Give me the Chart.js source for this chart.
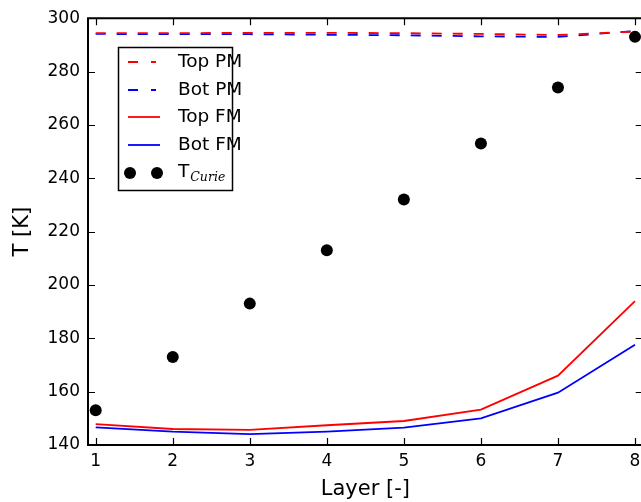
<!DOCTYPE html>
<html>
<head>
<meta charset="utf-8">
<script src="https://cdn.jsdelivr.net/npm/chart.js@4.4.1/dist/chart.umd.min.js"></script>
<style>
  html, body { margin: 0; padding: 0; background: #fff; overflow: hidden; }
  #wrap { width: 641px; height: 502px; overflow: hidden; }
</style>
</head>
<body>
<div id="wrap"><canvas id="c" width="650" height="502"></canvas></div>
<script>
// Layer index along the stack
const layers = [1, 2, 3, 4, 5, 6, 7, 8];
// Transition temperatures per layer [K]
const topPM = [294.4, 294.4, 294.5, 294.5, 294.4, 294.1, 293.7, 295.0];
const botPM = [294.1, 294.0, 294.0, 293.8, 293.6, 293.2, 293.0, 295.2];
const topFM = [147.8, 146.0, 145.7, 147.4, 149.0, 153.3, 166.0, 193.9];
const botFM = [146.6, 145.0, 144.1, 145.0, 146.5, 150.0, 159.6, 177.6];
const tCurie = [153, 173, 193, 213, 232, 253, 274, 293];
// Axis ticks
const xTicks = [1, 2, 3, 4, 5, 6, 7, 8];
const yTicks = [140, 160, 180, 200, 220, 240, 260, 280, 300];

const FONT = "'DejaVu Sans', sans-serif";
const pts = arr => arr.map((v, i) => ({ x: layers[i], y: v }));

const lineDs = (label, data, color, dashed) => ({
  label, data: pts(data), type: 'line', borderColor: color, backgroundColor: color,
  borderWidth: 1.8, borderDash: dashed ? [10, 11] : [], pointRadius: 0, tension: 0,
  showLine: true, fill: false
});

// Frame, inward ticks on all sides and a boxed legend inside the plot
const framePlugin = {
  id: 'frame',
  afterDatasetsDraw(chart) {
    const { ctx, chartArea: a, scales } = chart;
    ctx.save();
    ctx.strokeStyle = '#000';
    ctx.lineWidth = 1.2;
    ctx.beginPath();
    xTicks.forEach(t => {
      const px = Math.round(scales.x.getPixelForValue(t)) + 0.5;
      ctx.moveTo(px, a.bottom); ctx.lineTo(px, a.bottom - 7);
      ctx.moveTo(px, a.top); ctx.lineTo(px, a.top + 7);
    });
    yTicks.forEach(t => {
      const py = Math.round(scales.y.getPixelForValue(t)) + 0.5;
      ctx.moveTo(a.left, py); ctx.lineTo(a.left + 7, py);
      ctx.moveTo(a.right, py); ctx.lineTo(a.right - 7, py);
    });
    ctx.stroke();
    ctx.lineWidth = 2;
    ctx.beginPath();
    ctx.moveTo(a.right + 2, a.top); ctx.lineTo(a.left, a.top);
    ctx.lineTo(a.left, a.bottom); ctx.lineTo(a.right + 2, a.bottom);
    ctx.stroke();

    // legend
    const bx = 118, by = 47, bw = 114, bh = 143;
    ctx.fillStyle = '#fff';
    ctx.fillRect(bx, by, bw, bh);
    ctx.lineWidth = 1.5;
    ctx.strokeRect(bx + 0.5, by + 0.5, bw, bh);
    const rows = [62, 90, 117, 145, 173];
    const ds = chart.data.datasets;
    ctx.textBaseline = 'middle';
    ds.forEach((d, r) => {
      const y = rows[r];
      ctx.strokeStyle = d.borderColor;
      if (d.type === 'line') {
        ctx.lineWidth = 1.8;
        ctx.beginPath();
        if (d.borderDash.length) {
          ctx.moveTo(128, y); ctx.lineTo(138, y);
          ctx.moveTo(151, y); ctx.lineTo(156, y);
        } else {
          ctx.moveTo(128, y); ctx.lineTo(160, y);
        }
        ctx.stroke();
      } else {
        ctx.fillStyle = '#000';
        [130, 157].forEach(cx => {
          ctx.beginPath(); ctx.arc(cx, y, 6, 0, Math.PI * 2); ctx.fill();
        });
      }
      ctx.fillStyle = '#000';
      ctx.textAlign = 'left';
      ctx.font = '18.5px ' + FONT;
      if (d.label === 'TCurie') {
        ctx.fillText('T', 178, y - 1);
        const w = ctx.measureText('T').width;
        ctx.font = "italic 12.5px 'DejaVu Serif', 'Liberation Serif', serif";
        ctx.fillText('Curie', 178 + w + 1, y + 5);
      } else {
        ctx.fillText(d.label, 178, y);
      }
    });
    ctx.restore();
  }
};

new Chart(document.getElementById('c'), {
  type: 'scatter',
  data: {
    datasets: [
      lineDs('Top PM', topPM, '#ff0000', true),
      lineDs('Bot PM', botPM, '#0000ff', true),
      lineDs('Top FM', topFM, '#ff0000', false),
      lineDs('Bot FM', botFM, '#0000ff', false),
      {
        label: 'TCurie', data: pts(tCurie), type: 'scatter',
        borderColor: '#000', backgroundColor: '#000', pointRadius: 6, pointHoverRadius: 6,
        borderWidth: 0, showLine: false
      }
    ]
  },
  options: {
    responsive: false,
    animation: false,
    devicePixelRatio: 1,
    layout: { padding: { top: 17, right: 7.3, bottom: 0, left: 0 } },
    plugins: { legend: { display: false }, tooltip: { enabled: false } },
    scales: {
      x: {
        type: 'linear', min: 0.9, max: 8.1,
        afterBuildTicks: s => { s.ticks = xTicks.map(v => ({ value: v })); },
        afterFit: s => { s.height = 57; },
        grid: { display: false, drawTicks: false },
        border: { display: false },
        ticks: { color: '#000', font: { family: FONT, size: 17 }, padding: 6, maxRotation: 0 },
        title: { display: true, text: 'Layer [-]', color: '#000', font: { family: FONT, size: 21 }, padding: { top: 0, bottom: 0 } }
      },
      y: {
        type: 'linear', min: 140, max: 300,
        afterBuildTicks: s => { s.ticks = yTicks.map(v => ({ value: v })); },
        afterFit: s => { s.width = 88; },
        grid: { display: false, drawTicks: false },
        border: { display: false },
        ticks: { color: '#000', font: { family: FONT, size: 17 }, padding: 8 },
        title: { display: true, text: 'T [K]', color: '#000', font: { family: FONT, size: 21 }, padding: { top: 10, bottom: 0 } }
      }
    }
  },
  plugins: [framePlugin]
});
</script>
</body>
</html>
